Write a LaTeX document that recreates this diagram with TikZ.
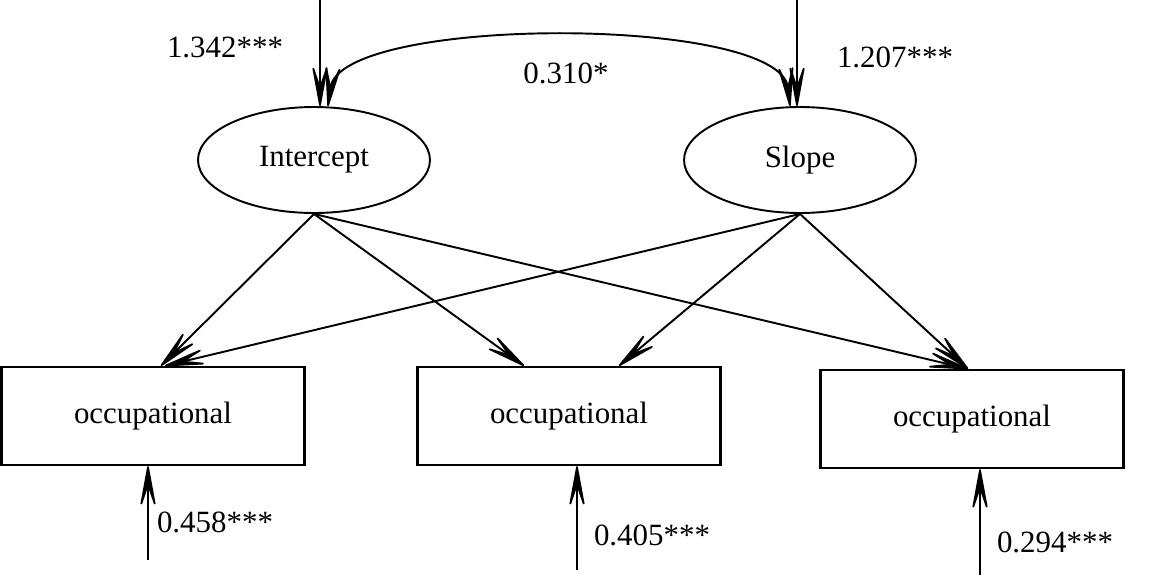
\documentclass[tikz,border=0pt]{standalone}
\usepackage{fontspec}
\setmainfont{Liberation Serif}
\usetikzlibrary{calc,arrows.meta,shapes.geometric}

\begin{document}
\begin{tikzpicture}[x=0.02cm,y=-0.02cm,
				every node/.style={font=\fontsize{17.6}{21}\selectfont},
				latent/.style={draw,ellipse,line width=1.1pt,minimum width=4.64cm,minimum height=2.12cm,inner sep=0pt},
				observed/.style={draw,rectangle,line width=1.4pt,minimum width=6.06cm,minimum height=1.96cm,inner sep=0pt},
				effect/.style={line width=1.1pt,-{Stealth[length=30pt,width=11pt,inset=16pt,line width=1pt,round]}},
				covar/.style={line width=1.1pt,{Stealth[length=30pt,width=11pt,inset=16pt,line width=1pt,round]}-{Stealth[length=30pt,width=11pt,inset=16pt,line width=1pt,round]}}]
				\useasboundingbox (0,0) rectangle (1150,579);
				\node[latent] (icpt) at (314,160) {Intercept};
				\node[latent] (slope) at (800,160) {Slope};
				\node[observed] (occ1) at (153,416) {occupational};
				\node[observed] (occ2) at (569,416) {occupational};
				\node[observed] (occ3) at (972,419) {occupational};
				\coordinate (d1) at (320,0);
				\coordinate (d2) at (797,0);
				\coordinate (r1) at (148,560);
				\coordinate (r2) at (577,570);
				\coordinate (r3) at (980,575);
				\draw[effect] (d1) -- (icpt.north -| d1);
				\draw[effect] (d2) -- (slope.north -| d2);
				\draw[covar] ($(icpt.north)+(14,0)$) .. controls (340,15) and (780,15) .. ($(slope.north)+(-10,0)$);
				\node (v1) at (225,47) {1.342***};
				\node (v2) at (895,57) {1.207***};
				\node (c12) at (566,73) {0.310*};
				\draw[effect] (icpt.south) -- ($(occ1.north)+(8,0)$);
				\draw[effect] (icpt.south) -- ($(occ2.north)+(-45,0)$);
				\draw[effect] (icpt.south) -- ($(occ3.north)+(-4,0)$);
				\draw[effect] (slope.south) -- ($(occ1.north)+(12,0)$);
				\draw[effect] (slope.south) -- ($(occ2.north)+(50,0)$);
				\draw[effect] (slope.south) -- ($(occ3.north)+(-4,0)$);
				\draw[effect] (r1) -- (occ1.south -| r1);
				\draw[effect] (r2) -- (occ2.south -| r2);
				\draw[effect] (r3) -- (occ3.south -| r3);
				\node (e1) at (215,522) {0.458***};
				\node (e2) at (652,535) {0.405***};
				\node (e3) at (1055,542) {0.294***};
			\end{tikzpicture}
\end{document}
